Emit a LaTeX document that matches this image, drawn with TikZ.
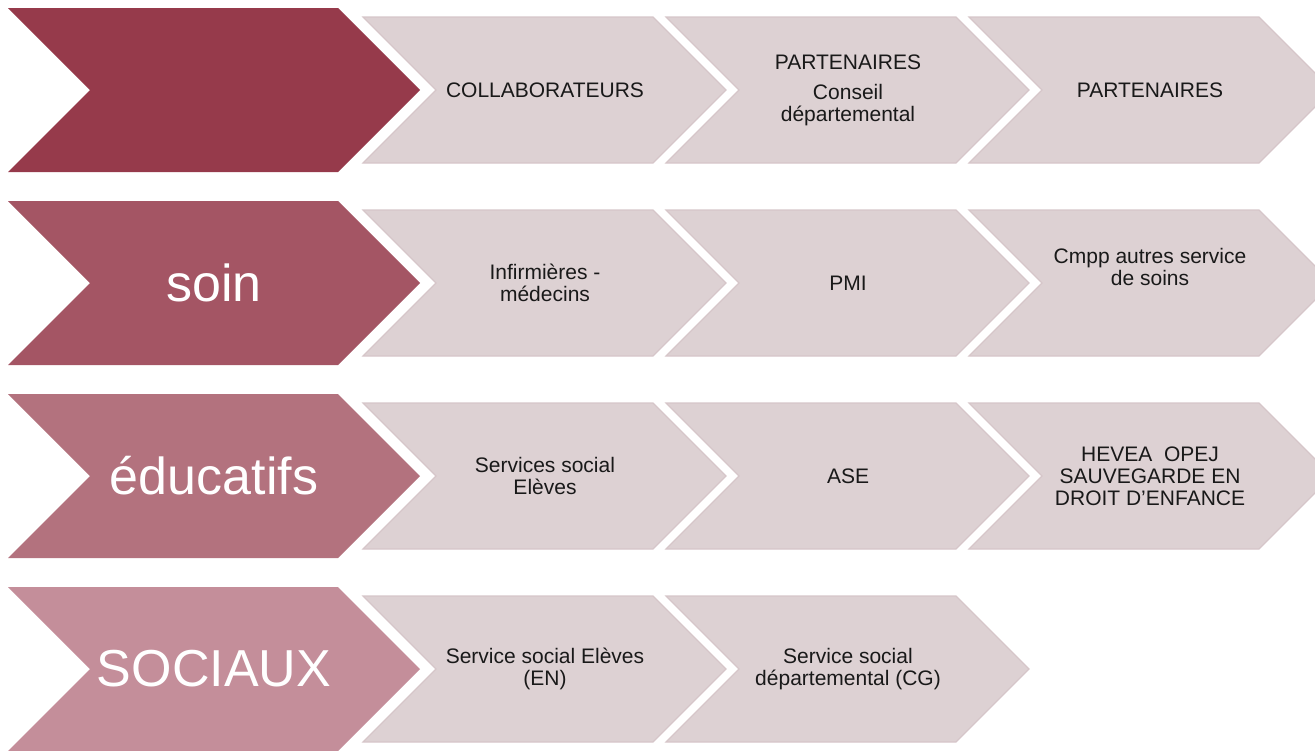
\documentclass[tikz,border=0pt]{standalone}
\usepackage{fontspec}
\setmainfont{Liberation Sans}
\definecolor{rowA}{HTML}{963A4B}
\definecolor{rowB}{HTML}{A45564}
\definecolor{rowC}{HTML}{B3727E}
\definecolor{rowD}{HTML}{C48E9A}
\definecolor{chevfill}{HTML}{DDD1D3}
\definecolor{chevline}{HTML}{D6C6C9}
\tikzset{
  bigchev/.style={fill=#1},
  smallchev/.style={fill=chevfill, draw=chevline, line width=0.6pt},
  bigtext/.style={font=\fontsize{26}{30}\selectfont, text=white, inner sep=0pt},
  smalltext/.style={font=\fontsize{10.5}{11}\selectfont, align=center, text=black!90, inner sep=0pt}
}
\begin{document}
\begin{tikzpicture}[x=0.5pt,y=-0.5pt]
\useasboundingbox (0,0) rectangle (1315,750);
\foreach \t/\c in {8/rowA,201/rowB,394/rowC,587/rowD}
  \fill[bigchev=\c] (8,\t) -- ++(330,0) -- ++(82,82) -- ++(-82,82) -- ++(-330,0) -- ++(82,-82) -- cycle;
\foreach \t in {17,210,403}
  \foreach \l in {363,666,969}
    \draw[smallchev] (\l,\t) -- ++(290,0) -- ++(73,73) -- ++(-73,73) -- ++(-290,0) -- ++(73,-73) -- cycle;
\foreach \l in {363,666}
  \draw[smallchev] (\l,596) -- ++(290,0) -- ++(73,73) -- ++(-73,73) -- ++(-290,0) -- ++(73,-73) -- cycle;

\node[bigtext] (soin) at (214,283) {soin};
\node[bigtext] (educatifs) at (214,476) {éducatifs};
\node[bigtext] (sociaux) at (214,669) {SOCIAUX};

\node[smalltext] (collab) at (545,90) {COLLABORATEURS};
\node[smalltext] (partcd) at (848,90) {PARTENAIRES\\[4pt]Conseil\\départemental};
\node[smalltext] (part) at (1150,90) {PARTENAIRES};

\node[smalltext] (infirm) at (545,283) {Infirmières -\\médecins};
\node[smalltext] (pmi) at (848,283) {PMI};
\node[smalltext] (cmpp) at (1150,267) {Cmpp autres service\\de soins};

\node[smalltext] (servsoc) at (545,476) {Services social\\Elèves};
\node[smalltext] (ase) at (848,476) {ASE};
\node[smalltext] (hevea) at (1150,476) {HEVEA~~OPEJ\\SAUVEGARDE EN\\DROIT D’ENFANCE};

\node[smalltext] (ssen) at (545,669) {Service social Elèves\\(EN)};
\node[smalltext] (sscg) at (848,669) {Service social\\départemental (CG)};
\end{tikzpicture}
\end{document}
